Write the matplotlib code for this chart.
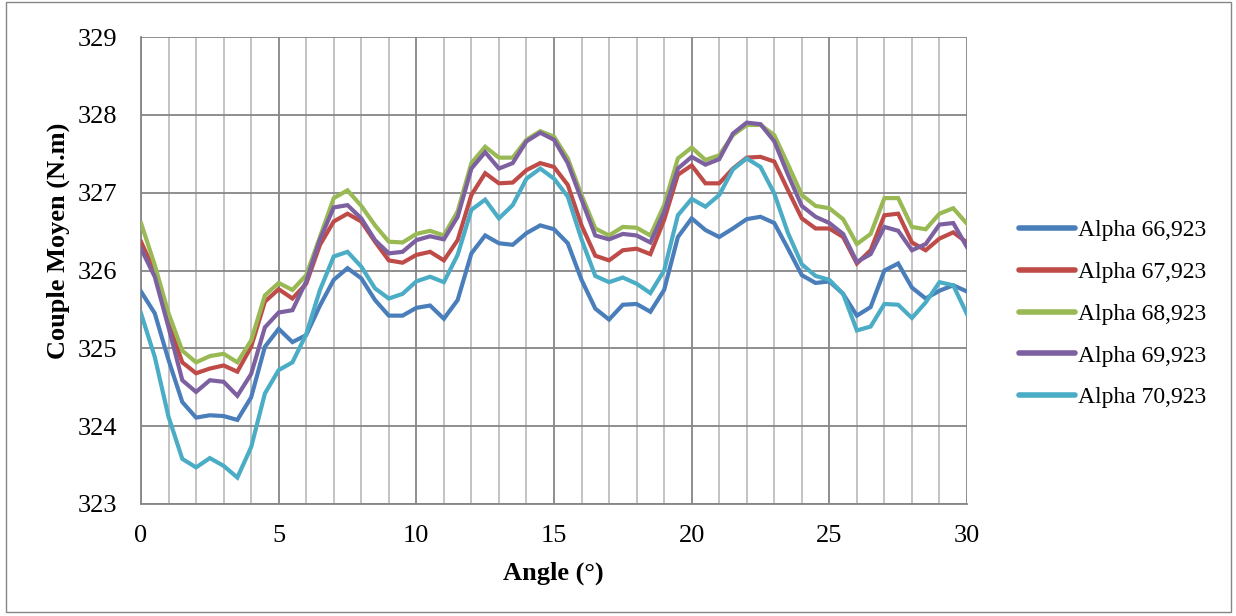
import numpy as np
import matplotlib
matplotlib.use("Agg")
import matplotlib.pyplot as plt
from matplotlib.patches import Rectangle

angles = np.arange(0, 30.5, 0.5)

alpha_66 = [325.73, 325.45, 324.85, 324.31, 324.11, 324.14, 324.13, 324.08, 324.37, 325.02,
            325.25, 325.08, 325.17, 325.55, 325.88, 326.03, 325.90, 325.62, 325.42, 325.42,
            325.52, 325.55, 325.38, 325.62, 326.22, 326.45, 326.35, 326.33, 326.48, 326.58,
            326.53, 326.35, 325.88, 325.51, 325.37, 325.56, 325.57, 325.47, 325.75, 326.43,
            326.67, 326.52, 326.43, 326.54, 326.66, 326.69, 326.61, 326.28, 325.94, 325.84,
            325.86, 325.70, 325.42, 325.53, 326.00, 326.09, 325.78, 325.64, 325.74, 325.81,
            325.73]
alpha_67 = [326.37, 325.98, 325.32, 324.82, 324.68, 324.74, 324.78, 324.70, 325.02, 325.60,
            325.76, 325.64, 325.83, 326.33, 326.63, 326.73, 326.63, 326.37, 326.13, 326.10,
            326.20, 326.24, 326.13, 326.39, 326.97, 327.25, 327.12, 327.13, 327.29, 327.38,
            327.33, 327.10, 326.58, 326.19, 326.13, 326.26, 326.28, 326.21, 326.65, 327.23,
            327.35, 327.12, 327.12, 327.31, 327.45, 327.46, 327.40, 327.03, 326.67, 326.54,
            326.54, 326.43, 326.09, 326.26, 326.71, 326.73, 326.36, 326.26, 326.41, 326.49,
            326.36]
alpha_68 = [326.61, 326.07, 325.45, 324.97, 324.82, 324.90, 324.93, 324.82, 325.10, 325.68,
            325.84, 325.75, 325.94, 326.43, 326.93, 327.03, 326.83, 326.58, 326.37, 326.36,
            326.47, 326.51, 326.45, 326.76, 327.38, 327.59, 327.45, 327.45, 327.68, 327.79,
            327.72, 327.44, 326.97, 326.54, 326.45, 326.56, 326.55, 326.45, 326.84, 327.44,
            327.58, 327.42, 327.48, 327.74, 327.87, 327.87, 327.74, 327.36, 326.97, 326.83,
            326.80, 326.66, 326.34, 326.47, 326.93, 326.93, 326.56, 326.53, 326.73, 326.80,
            326.60]
alpha_69 = [326.28, 325.92, 325.27, 324.59, 324.44, 324.59, 324.57, 324.39, 324.67, 325.27,
            325.46, 325.49, 325.86, 326.40, 326.81, 326.84, 326.67, 326.39, 326.22, 326.24,
            326.39, 326.44, 326.40, 326.69, 327.31, 327.52, 327.31, 327.38, 327.66, 327.77,
            327.68, 327.38, 326.91, 326.45, 326.40, 326.47, 326.45, 326.36, 326.75, 327.31,
            327.46, 327.36, 327.43, 327.76, 327.90, 327.88, 327.66, 327.23, 326.83, 326.69,
            326.61, 326.47, 326.11, 326.21, 326.56, 326.51, 326.26, 326.34, 326.59, 326.61,
            326.30]
alpha_70 = [325.45, 324.89, 324.12, 323.58, 323.47, 323.59, 323.49, 323.34, 323.73, 324.42,
            324.72, 324.82, 325.18, 325.75, 326.18, 326.24, 326.05, 325.77, 325.64, 325.70,
            325.86, 325.92, 325.85, 326.20, 326.78, 326.91, 326.67, 326.84, 327.18, 327.31,
            327.18, 326.95, 326.40, 325.93, 325.85, 325.91, 325.83, 325.71, 326.00, 326.71,
            326.92, 326.82, 326.97, 327.30, 327.44, 327.33, 326.99, 326.48, 326.08, 325.93,
            325.88, 325.70, 325.23, 325.28, 325.57, 325.56, 325.39, 325.59, 325.85, 325.81,
            325.44]

labels = ["Alpha 66,923", "Alpha 67,923", "Alpha 68,923", "Alpha 69,923", "Alpha 70,923"]
series = [alpha_66, alpha_67, alpha_68, alpha_69, alpha_70]
colors = ["#4A7EBB", "#BE4B48", "#98B954", "#7D60A0", "#4BACC6"]

plt.rcParams['font.family'] = ['Liberation Serif', 'DejaVu Serif']

W, H = 1236, 616
fig = plt.figure(figsize=(W/100, H/100), dpi=100)
ax = fig.add_axes([141/W, 1-504/H, (967-141)/W, (504-37)/H])

# gridlines
for v in range(0, 31):
    c = "#868686" if v % 5 == 0 else "#BEBEBE"
    ax.axvline(v, color=c, lw=1.3, zorder=0)
for v in range(323, 330):
    ax.axhline(v, color="#868686", lw=1.3, zorder=0)

for s, lab, col in zip(series, labels, colors):
    ax.plot(angles, s, color=col, lw=3.0, label=lab, solid_joinstyle='miter', zorder=3)

ax.set_xlim(0, 30)
ax.set_ylim(323, 329)
ax.set_xticks(range(0, 31, 5))
ax.set_yticks(range(323, 330))
ax.tick_params(axis='y', length=0, labelsize=19, pad=17)
ax.tick_params(axis='x', length=0, labelsize=19, pad=15)
for sp in ['top', 'right']:
    ax.spines[sp].set_visible(False)
for sp in ['left', 'bottom']:
    ax.spines[sp].set_color("#868686")
    ax.spines[sp].set_linewidth(1.3)

fig.text(553/W, 1-573/H, "Angle (°)", fontsize=19, fontweight='bold', ha='center', va='center')
fig.text(58/W, 1-241/H, "Couple Moyen (N.m)", fontsize=19, fontweight='bold',
         ha='center', va='center', rotation=90)

leg = fig.legend(loc='center left', bbox_to_anchor=(1019/W, 1-314/H), frameon=False,
                 fontsize=17, handlelength=2.37, handletextpad=0.15, labelspacing=0.86,
                 borderaxespad=0, borderpad=0)
for h in leg.get_lines():
    h.set_linewidth(4.0)
    h.set_solid_capstyle('round')

fig.patches.append(Rectangle((6/W, 4/H), 1-(6+5)/W, 1-(4+2)/H, transform=fig.transFigure,
                             fill=False, edgecolor="#868686", lw=1))

fig.savefig("out.png", dpi=100)
